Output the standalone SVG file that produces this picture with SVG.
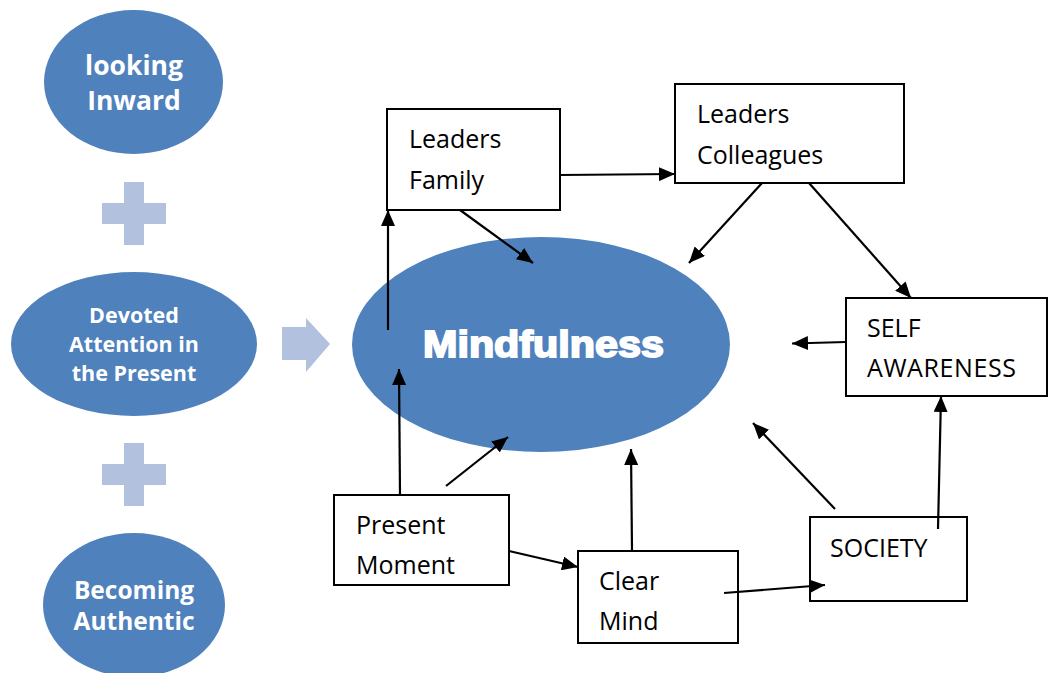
<svg xmlns="http://www.w3.org/2000/svg" width="1048" height="673" viewBox="0 0 1048 673">
<defs>
<marker id="ah" viewBox="0 0 16 14" refX="16" refY="7" markerWidth="16" markerHeight="14" markerUnits="userSpaceOnUse" orient="auto">
<path d="M0,0 L16,7 L0,14 Z" fill="#000"/>
</marker>
<style>
.oval{fill:#4F81BD}
.lt{fill:#fff;font-family:"Open Sans","Liberation Sans",sans-serif;font-weight:bold;text-anchor:middle}
.box{fill:#fff;stroke:#000;stroke-width:2}
.bt{fill:#000;font-family:"Open Sans","Liberation Sans",sans-serif;font-size:25px}
.pl{fill:#B2C1DD}
.cn line{stroke:#000;stroke-width:2.2;marker-end:url(#ah)}
</style>
</defs>
<rect width="1048" height="673" fill="#fff"/>
<g id="looking-inward">
<ellipse class="oval" cx="133.5" cy="82" rx="89.5" ry="72"/>
<text class="lt" font-size="26.5" x="134" y="75">looking</text>
<text class="lt" font-size="26.5" x="134" y="110">Inward</text>
</g>
<g id="plus1" class="pl">
<rect x="124" y="182" width="20" height="63"/>
<rect x="102" y="203" width="64" height="21"/>
</g>
<g id="devoted-attention">
<ellipse class="oval" cx="134" cy="344" rx="123" ry="72"/>
<text class="lt" font-size="21.5" x="134" y="323">Devoted</text>
<text class="lt" font-size="21.5" x="134" y="352">Attention in</text>
<text class="lt" font-size="21.5" x="134" y="381">the Present</text>
</g>
<g id="plus2" class="pl">
<rect x="124" y="443" width="20" height="63"/>
<rect x="102" y="464" width="64" height="21"/>
</g>
<g id="becoming-authentic">
<ellipse class="oval" cx="134" cy="605" rx="91" ry="72"/>
<text class="lt" font-size="24.5" x="134" y="599">Becoming</text>
<text class="lt" font-size="24.5" x="134" y="630">Authentic</text>
</g>
<g id="big-arrow">
<path class="pl" d="M282,327 H306 V318 L330,344 L306,372 V360 H282 Z"/>
</g>
<g id="mindfulness">
<ellipse class="oval" cx="541" cy="344.5" rx="189" ry="107.5"/>
<text x="543.5" y="357" fill="#fff" stroke="#fff" stroke-width="1.8" font-family="'Liberation Sans',Arial,sans-serif" font-weight="bold" font-size="36" text-anchor="middle" textLength="241" lengthAdjust="spacingAndGlyphs">Mindfulness</text>
</g>
<g id="leaders-family">
<rect class="box" x="387" y="109" width="173" height="101"/>
<text class="bt" x="409" y="148">Leaders</text>
<text class="bt" x="409" y="189">Family</text>
</g>
<g id="leaders-colleagues">
<rect class="box" x="675" y="84" width="229" height="99"/>
<text class="bt" x="697" y="123">Leaders</text>
<text class="bt" x="697" y="164">Colleagues</text>
</g>
<g id="self-awareness">
<rect class="box" x="846" y="298" width="201" height="98"/>
<text class="bt" x="867" y="337">SELF</text>
<text class="bt" x="867" y="377" textLength="149">AWARENESS</text>
</g>
<g id="present-moment">
<rect class="box" x="334" y="495" width="175" height="90"/>
<text class="bt" x="356" y="534">Present</text>
<text class="bt" x="356" y="574">Moment</text>
</g>
<g id="clear-mind">
<rect class="box" x="578" y="551" width="160" height="92"/>
<text class="bt" x="599" y="590">Clear</text>
<text class="bt" x="599" y="630">Mind</text>
</g>
<g id="society">
<rect class="box" x="810" y="517" width="157" height="84"/>
<text class="bt" x="830" y="557">SOCIETY</text>
</g>
<g id="connectors" class="cn">
<line x1="560" y1="175" x2="675" y2="174"/>
<line x1="460" y1="210" x2="533" y2="263"/>
<line x1="388" y1="330" x2="388" y2="210"/>
<line x1="762" y1="183" x2="689" y2="263"/>
<line x1="809" y1="183" x2="911" y2="298"/>
<line x1="846" y1="342" x2="792" y2="343.5"/>
<line x1="400" y1="495" x2="399" y2="369"/>
<line x1="446" y1="486" x2="508" y2="437"/>
<line x1="509" y1="551" x2="578" y2="567"/>
<line x1="632" y1="550" x2="631" y2="449"/>
<line x1="724" y1="593" x2="825" y2="585"/>
<line x1="835" y1="509" x2="753" y2="423"/>
<line x1="938" y1="529" x2="941" y2="396"/>
</g>
</svg>
